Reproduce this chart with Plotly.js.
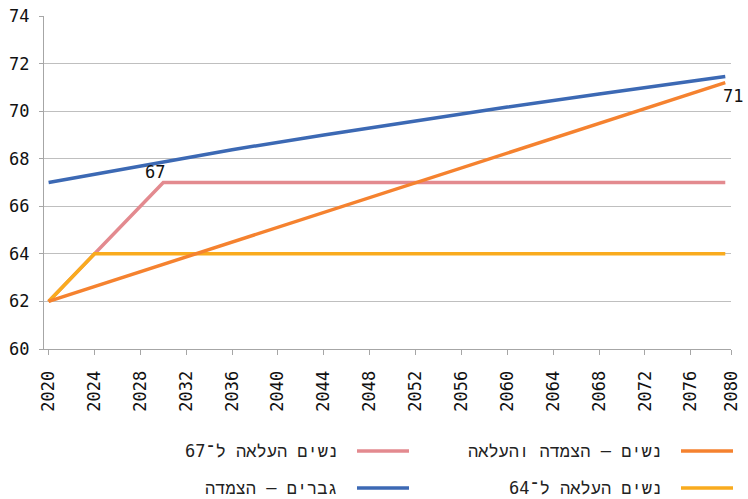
<!DOCTYPE html>
<html>
<head>
<meta charset="utf-8">
<script src="https://cdn.plot.ly/plotly-3.0.1.min.js"></script>
<style>html,body{margin:0;padding:0;background:#fff;}#chart{width:748px;height:499px;}</style>
</head>
<body>
<div id="chart"></div>
<script>
// ---- data ----
const tickYears = [2020, 2024, 2028, 2032, 2036, 2040, 2044, 2048, 2052, 2056, 2060, 2064, 2068, 2072, 2076, 2080];
const yTicks = [60, 62, 64, 66, 68, 70, 72, 74];

const yearsMen = [2020, 2028, 2036, 2044, 2052, 2060, 2068, 2079];
const menFreeze = [67, 67.7, 68.38, 69.0, 69.6, 70.17, 70.72, 71.46];

const yearsWomenFreeze = [2020, 2079];
const womenFreezeRaise = [62, 71.2];

const yearsWomen67 = [2020, 2030, 2079];
const womenRaise67 = [62, 67, 67];

const yearsWomen64 = [2020, 2024, 2079];
const womenRaise64 = [62, 64, 64];

const names = {
  orange: 'נשים – הצמדה והעלאה',
  pink: 'נשים העלאה ל־67',
  yellow: 'נשים העלאה ל־64',
  blue: 'גברים – הצמדה'
};
const colors = {orange: '#F5822F', pink: '#E38A8F', yellow: '#F9AB1E', blue: '#3C69B4'};

// ---- layout helpers ----
const x0 = 2019.6, x1 = 2079.5;
const tickPos = tickYears.map(y => Math.min(y, x1));
const FONT = 'DejaVu Sans Mono, Liberation Mono';
const FS = 17;

function tr(x, y, c, n) {
  return {x: x, y: y, type: 'scatter', mode: 'lines', name: n,
    line: {color: c, width: 3.5}, showlegend: false, hoverinfo: 'skip'};
}

const data = [
  tr(yearsWomen67, womenRaise67, colors.pink, names.pink),
  tr(yearsWomen64, womenRaise64, colors.yellow, names.yellow),
  tr(yearsWomenFreeze, womenFreezeRaise, colors.orange, names.orange),
  tr(yearsMen, menFreeze, colors.blue, names.blue)
];

// custom RTL legend (symbol to the right of text)
const legendItems = [
  {key: 'orange', lineX: [681, 733], textRight: 664, y: 451},
  {key: 'pink', lineX: [357, 409], textRight: 340, y: 451},
  {key: 'yellow', lineX: [681, 733], textRight: 664, y: 488},
  {key: 'blue', lineX: [357, 409], textRight: 340, y: 488}
];
const shapes = legendItems.map(it => ({
  type: 'line', xref: 'paper', yref: 'paper',
  x0: (it.lineX[0] - 44) / 687, x1: (it.lineX[1] - 44) / 687,
  y0: (349 - it.y) / 333, y1: (349 - it.y) / 333,
  line: {color: colors[it.key], width: 3.5}
}));
const annotations = legendItems.map(it => ({
  xref: 'paper', yref: 'paper',
  x: (it.textRight - 44) / 687, y: (349 - it.y) / 333,
  xanchor: 'right', yanchor: 'middle', showarrow: false,
  text: names[it.key], font: {family: FONT, size: FS, color: '#222'}
}));
annotations.push({
  x: yearsWomen67[1], y: womenRaise67[1], xref: 'x', yref: 'y',
  text: String(womenRaise67[1]), showarrow: false,
  xanchor: 'center', yanchor: 'bottom', xshift: -8, yshift: -1,
  font: {family: FONT, size: FS, color: '#111'}
});
annotations.push({
  x: yearsWomenFreeze[1], y: womenFreezeRaise[1], xref: 'x', yref: 'y',
  text: String(Math.floor(womenFreezeRaise[1])), showarrow: false,
  xanchor: 'left', yanchor: 'top', xshift: -4, yshift: -1,
  font: {family: FONT, size: FS, color: '#111'}
});

const layout = {
  width: 748, height: 499,
  margin: {l: 44, r: 17, t: 16, b: 150},
  paper_bgcolor: '#fff', plot_bgcolor: '#fff',
  font: {family: FONT, size: FS, color: '#111'},
  showlegend: false,
  xaxis: {
    range: [x0, x1], tickmode: 'array', tickvals: tickPos,
    ticktext: tickYears.map(String), tickangle: -90,
    showgrid: false, zeroline: false,
    showline: true, linecolor: '#a6a6a6', linewidth: 1,
    ticks: 'outside', ticklen: 5, tickcolor: '#a6a6a6',
    ticklabelstandoff: 9,
    tickfont: {family: FONT, size: FS, color: '#111'},
    fixedrange: true
  },
  yaxis: {
    range: [60, 74], tickmode: 'array', tickvals: yTicks,
    ticktext: yTicks.map(String),
    showgrid: true, gridcolor: '#bfbfbf', gridwidth: 1, zeroline: false,
    showline: true, linecolor: '#a6a6a6', linewidth: 1,
    ticks: 'outside', ticklen: 4, tickcolor: '#a6a6a6',
    ticklabelstandoff: 6,
    tickfont: {family: FONT, size: FS, color: '#111'},
    fixedrange: true
  },
  shapes: shapes,
  annotations: annotations
};

Plotly.newPlot('chart', data, layout, {displayModeBar: false, staticPlot: true});
</script>
</body>
</html>
